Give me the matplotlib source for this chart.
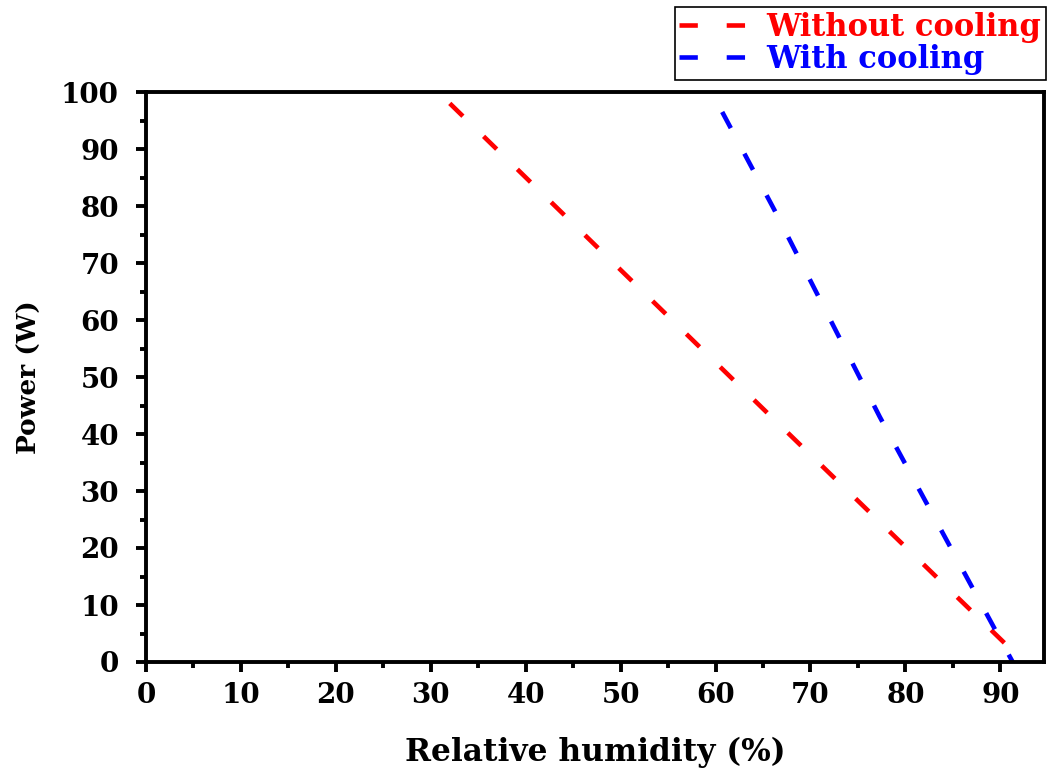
import matplotlib
matplotlib.use("Agg")
import matplotlib.pyplot as plt
from matplotlib.ticker import MultipleLocator

# Data
rh_without = [32.0, 65.7, 92.5]
power_without = [98.0, 43.3, 0.0]
rh_with = [60.7, 66.2, 77.3, 91.3]
power_with = [96.5, 79.3, 43.0, 0.0]

labels = ["Without cooling", "With cooling"]
colors = ["#ff0000", "#0000ff"]

plt.rcParams['font.family'] = ['DejaVu Serif']
plt.rcParams['font.weight'] = 'bold'

fig = plt.figure(figsize=(10.47, 7.72), dpi=100)
ax = fig.add_axes([146/1047, 1-662/772, (1044-146)/1047, (662-92)/772])

dash = (4.0, 6.3)
l1, = ax.plot(rh_without, power_without, color=colors[0], lw=3.3, dashes=dash,
              dash_capstyle='butt', label=labels[0])
l2, = ax.plot(rh_with, power_with, color=colors[1], lw=3.3, dashes=dash,
              dash_capstyle='butt', label=labels[1])

ax.set_xlim(0, 94.6)
ax.set_ylim(0, 100)
ax.xaxis.set_major_locator(MultipleLocator(10))
ax.xaxis.set_minor_locator(MultipleLocator(5))
ax.yaxis.set_major_locator(MultipleLocator(10))
ax.yaxis.set_minor_locator(MultipleLocator(5))

for s in ax.spines.values():
    s.set_linewidth(2.8)
ax.tick_params(which='major', direction='out', length=7.5, width=2.8,
               labelsize=20, top=False, right=False)
ax.tick_params(which='minor', direction='out', length=4.5, width=2.8,
               top=False, right=False)
ax.tick_params(axis='x', which='major', pad=7)
ax.tick_params(axis='y', which='major', pad=12)
for t in ax.get_xticklabels() + ax.get_yticklabels():
    t.set_fontweight('bold')

ax.set_xlabel("Relative humidity (%)", fontsize=22.5, fontweight='bold', labelpad=20)
ax.set_ylabel("Power (W)", fontsize=19, fontweight='bold', labelpad=14)

leg = fig.legend(handles=[l1, l2], loc='upper right',
                 bbox_to_anchor=(1046/1047, 1-7/772),
                 bbox_transform=fig.transFigure,
                 fontsize=22, frameon=True, fancybox=False, framealpha=1,
                 edgecolor='black', handlelength=2.6, handletextpad=0.25,
                 borderpad=0.15, labelspacing=0.05, borderaxespad=0)
leg.get_frame().set_linewidth(1.2)
for txt, c in zip(leg.get_texts(), colors):
    txt.set_color(c)
    txt.set_fontweight('bold')

fig.savefig("out.png", dpi=100)
